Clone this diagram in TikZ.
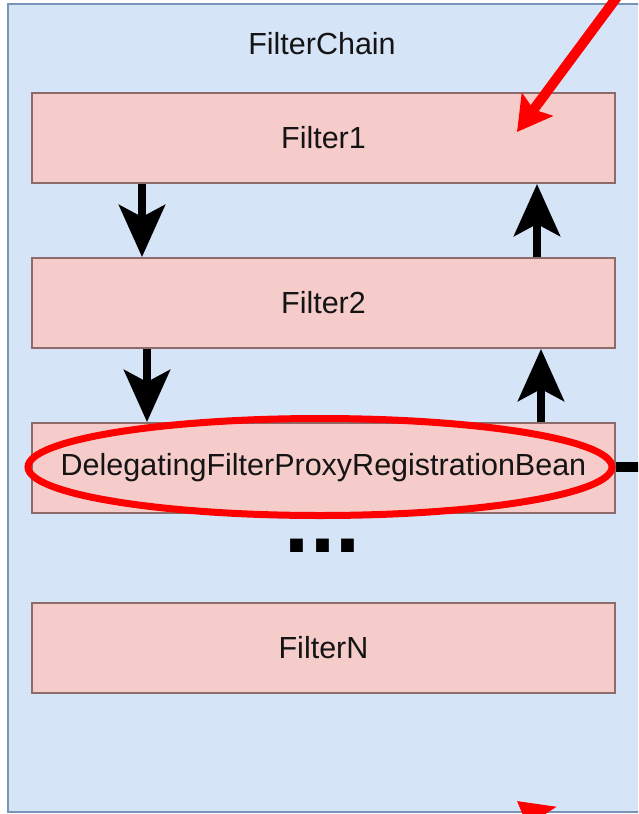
\documentclass[tikz,border=0pt]{standalone}
\usepackage{fontspec}
\setmainfont{Liberation Sans}
\usetikzlibrary{arrows.meta,shapes.geometric}
\definecolor{chainfill}{HTML}{D6E4F8}
\definecolor{chainborder}{HTML}{7A93B8}
\definecolor{filterfill}{HTML}{F6CCCA}
\definecolor{filterborder}{HTML}{8E6B6B}
\definecolor{txt}{HTML}{141414}
\definecolor{hl}{HTML}{FF0000}
\begin{document}
\begin{tikzpicture}[x=1pt,y=-1pt,
  lbl/.style={text=txt, font=\fontsize{30.5}{36}\selectfont},
  filterbox/.style={draw=filterborder, fill=filterfill, line width=2pt, minimum width=583pt, minimum height=90pt, inner sep=0pt, lbl},
  flow/.style={line width=8pt, draw=black, -{Stealth[length=52pt,width=46pt,inset=12pt]}},
  redarrow/.style={line width=10pt, draw=hl, -{Stealth[length=34pt,width=38pt,inset=6pt]}},
]
\useasboundingbox (0,0) rectangle (638,814);
\begin{scope}
\clip (0,0) rectangle (638,814);
\node[draw=chainborder, fill=chainfill, line width=2pt, anchor=north west, minimum width=680pt, minimum height=808pt, inner sep=0pt] (chain) at (7,3) {};
\node[lbl] (title) at (322,44) {FilterChain};
\node[filterbox] (f1) at (323.5,138) {Filter1};
\node[filterbox] (f2) at (323.5,303) {Filter2};
\node[filterbox] (dfp) at (323.5,468) {DelegatingFilterProxyRegistrationBean};
\node[filterbox] (fn) at (323.5,648) {FilterN};
\node[font=\bfseries\fontsize{90}{90}\selectfont, text=black, anchor=base] (dots) at (322.5,552) {...};
\draw[flow] ([xshift=-181.5pt]f1.south) -- ([xshift=-181.5pt]f2.north);
\draw[flow] ([xshift=-176.5pt]f2.south) -- ([xshift=-176.5pt]dfp.north);
\draw[flow] ([xshift=213.5pt]f2.north) -- ([xshift=213.5pt]f1.south);
\draw[flow] ([xshift=217.5pt]dfp.north) -- ([xshift=217.5pt]f2.south);
\node[ellipse, draw=hl, line width=7pt, minimum width=584pt, minimum height=97pt, inner sep=0pt] (ring) at (320,467) {};
\coordinate (offright) at (670,467);
\draw[line width=10pt, black] (ring.east) -- (offright);
\coordinate (redstart) at (637,-30);
\coordinate (redtip) at (517,132);
\draw[redarrow] (redstart) -- (redtip);
\coordinate (redstart2) at (640,897);
\coordinate (redtip2) at (517,801);
\draw[redarrow] (redstart2) -- (redtip2);
\end{scope}
\end{tikzpicture}
\end{document}
